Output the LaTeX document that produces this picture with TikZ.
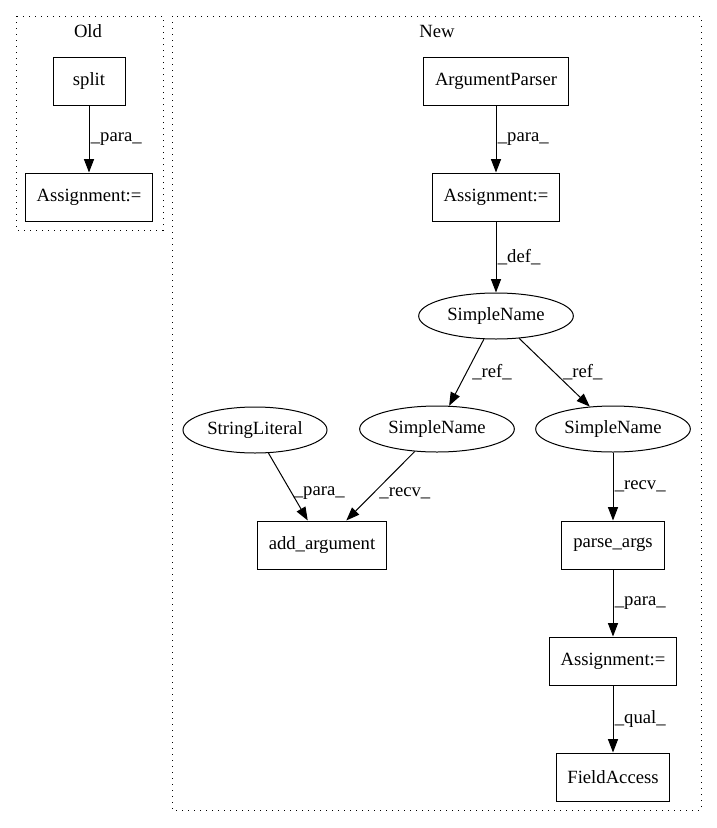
\documentclass[tikz,border=0pt]{standalone}
\usepackage{fontspec}
\setmainfont{Liberation Serif}
\usetikzlibrary{shapes.geometric, arrows.meta}

\tikzset{
  box/.style={rectangle, draw, line width=0.75pt, minimum height=36pt, minimum width=54pt, inner xsep=8.5pt, font=\fontsize{14pt}{16pt}\selectfont},
  oval/.style={ellipse, draw, line width=0.75pt, minimum height=34.5pt, minimum width=116pt, inner sep=0pt, font=\fontsize{14pt}{16pt}\selectfont},
  edge/.style={-{Triangle[length=10pt,width=7.5pt]}, line width=0.75pt},
  elabel/.style={font=\fontsize{14pt}{16pt}\selectfont, anchor=west, inner sep=1pt},
  cluster/.style={draw, line width=0.75pt, dash pattern=on 0.75pt off 3.75pt},
  ctitle/.style={font=\fontsize{14pt}{16pt}\selectfont, inner sep=0pt}
}

\begin{document}
\begin{tikzpicture}[x=0.75pt, y=-0.75pt]
            \useasboundingbox (0,0) rectangle (717,828);
            % Clusters
            \draw[cluster] (16,16) rectangle (163,230);
            \node[ctitle] (oldtitle) at (88,31) {Old};
            \draw[cluster] (172,16) rectangle (701,810);
            \node[ctitle] (newtitle) at (437,31) {New};
            % Old
            \node[box] (split) at (89,81) {split};
            \node[box] (oldassign) at (89,197) {Assignment:=};
            % New
            \node[box] (argparser) at (496,81) {ArgumentParser};
            \node[box] (assign) at (496,197) {Assignment:=};
            \node[oval] (sname) at (496,316) {SimpleName};
            \node[oval, minimum width=108pt] (strlit) at (255,430) {StringLiteral};
            \node[oval] (snameleft) at (437,429) {SimpleName};
            \node[oval] (snameright) at (613,429) {SimpleName};
            \node[box] (addarg) at (322,545) {add\_argument};
            \node[box] (parseargs) at (613,545) {parse\_args};
            \node[box] (assignb) at (613,661) {Assignment:=};
            \node[box] (fieldacc) at (613,777) {FieldAccess};
            % Edges
            \draw[edge] (split) -- (oldassign) node[elabel, midway] {\_para\_};
            \draw[edge] (argparser) -- (assign) node[elabel, midway] {\_para\_};
            \draw[edge] (assign) -- (sname) node[elabel, midway] {\_def\_};
            \draw[edge] (sname) -- (snameleft) node[elabel, pos=0.5, xshift=3pt] {\_ref\_};
            \draw[edge] (sname) -- (snameright) node[elabel, pos=0.5, xshift=5pt] {\_ref\_};
            \draw[edge] (strlit) -- (addarg) node[elabel, pos=0.6] {\_para\_};
            \draw[edge] (snameleft) -- (addarg) node[elabel, pos=0.6, xshift=3pt] {\_recv\_};
            \draw[edge] (snameright) -- (parseargs) node[elabel, midway] {\_recv\_};
            \draw[edge] (parseargs) -- (assignb) node[elabel, midway] {\_para\_};
            \draw[edge] (assignb) -- (fieldacc) node[elabel, midway] {\_qual\_};
        \end{tikzpicture}
\end{document}
